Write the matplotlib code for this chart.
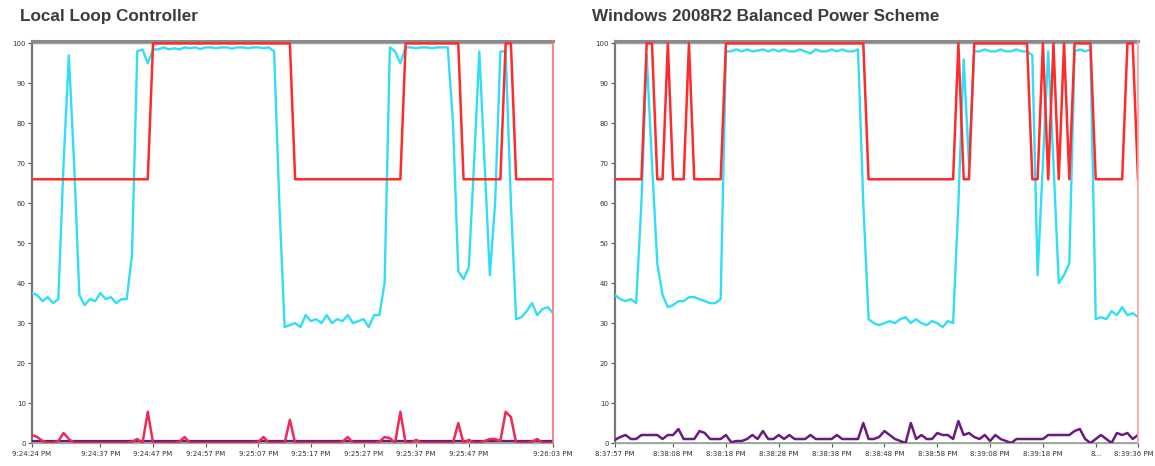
import matplotlib
matplotlib.use("Agg")
import matplotlib.pyplot as plt
import matplotlib.transforms as mtransforms
import numpy as np

# ---------------- data ----------------
titles = ["Local Loop Controller", "Windows 2008R2 Balanced Power Scheme"]
y_ticks = [0, 10, 20, 30, 40, 50, 60, 70, 80, 90, 100]

left_tick_pos = [0, 13, 23, 33, 43, 53, 63, 73, 83, 99]
left_tick_labels = ["9:24:24 PM", "9:24:37 PM", "9:24:47 PM", "9:24:57 PM", "9:25:07 PM",
                    "9:25:17 PM", "9:25:27 PM", "9:25:37 PM", "9:25:47 PM", "9:26:03 PM"]
right_tick_pos = [0, 11, 21, 31, 41, 51, 61, 71, 81, 91, 99]
right_tick_labels = ["8:37:57 PM", "8:38:08 PM", "8:38:18 PM", "8:38:28 PM", "8:38:38 PM",
                     "8:38:48 PM", "8:38:58 PM", "8:39:08 PM", "8:39:18 PM", "8...", "8:39:36 PM"]

# Local Loop Controller: processor time (cyan), frequency (red), low counters
left_cpu = [37.5, 37, 35.5, 36.5, 35, 36, 70, 97, 70, 37,
            34.5, 36, 35.5, 37.5, 36, 36.5, 35, 36, 36, 47,
            98, 98.5, 95, 98.5, 98.5, 99, 98.5, 98.8, 98.5, 99,
            98.8, 99, 98.6, 99, 99, 98.8, 99, 99, 98.7, 99,
            99, 98.8, 99, 99, 98.8, 99, 98, 60, 29, 29.5,
            30, 29, 32, 30.5, 31, 30, 32, 30, 31, 30.5,
            32, 30, 30.5, 31, 29, 32, 32, 40, 99, 98,
            95, 99, 99, 98.8, 99, 99, 98.8, 99, 99, 99,
            80, 43, 41, 44, 70, 98, 70, 42, 60, 98,
            98, 60, 31, 31.5, 33, 35, 32, 33.5, 34, 32.5]
left_freq = [66, 66, 66, 66, 66, 66, 66, 66, 66, 66,
             66, 66, 66, 66, 66, 66, 66, 66, 66, 66,
             66, 66, 66, 100, 100, 100, 100, 100, 100, 100,
             100, 100, 100, 100, 100, 100, 100, 100, 100, 100,
             100, 100, 100, 100, 100, 100, 100, 100, 100, 100,
             66, 66, 66, 66, 66, 66, 66, 66, 66, 66,
             66, 66, 66, 66, 66, 66, 66, 66, 66, 66,
             66, 100, 100, 100, 100, 100, 100, 100, 100, 100,
             100, 100, 66, 66, 66, 66, 66, 66, 66, 66,
             100, 100, 66, 66, 66, 66, 66, 66, 66, 66]
left_low_red = [2.0, 1.5, 0.5, 0, 0, 0.5, 2.5, 1.0, 0, 0,
                0, 0, 0, 0, 0, 0, 0, 0, 0, 0.3,
                1.0, 0, 7.8, 0, 0, 0, 0, 0, 0.3, 1.5,
                0, 0, 0, 0, 0, 0, 0, 0, 0, 0,
                0, 0, 0, 0.3, 1.5, 0, 0, 0, 0, 5.8,
                0, 0, 0, 0, 0, 0, 0, 0, 0, 0.3,
                1.5, 0, 0, 0, 0, 0, 0.3, 1.5, 1.2, 0,
                7.8, 0, 0, 0.8, 0, 0, 0, 0, 0, 0,
                0, 5.0, 0, 0.8, 0, 0, 0.5, 1.0, 1.0, 0.5,
                7.8, 6.5, 0, 0, 0, 0.3, 1.0, 0, 0, 0]
left_low_purple = [0.4, 0.4, 0.4, 0.4, 0.4, 0.4, 0.4, 0.4, 0.4, 0.4,
                   0.4, 0.4, 0.4, 0.4, 0.4, 0.4, 0.4, 0.4, 0.4, 0.4,
                   0.4, 0.4, 0.4, 0.4, 0.4, 0.4, 0.4, 0.4, 0.4, 0.4,
                   0.4, 0.4, 0.4, 0.4, 0.4, 0.4, 0.4, 0.4, 0.4, 0.4,
                   0.4, 0.4, 0.4, 0.4, 0.4, 0.4, 0.4, 0.4, 0.4, 0.4,
                   0.4, 0.4, 0.4, 0.4, 0.4, 0.4, 0.4, 0.4, 0.4, 0.4,
                   0.4, 0.4, 0.4, 0.4, 0.4, 0.4, 0.4, 0.4, 0.4, 0.4,
                   0.4, 0.4, 0.4, 0.4, 0.4, 0.4, 0.4, 0.4, 0.4, 0.4,
                   0.4, 0.4, 0.4, 0.4, 0.4, 0.4, 0.4, 0.4, 0.4, 0.4,
                   0.4, 0.4, 0.4, 0.4, 0.4, 0.4, 0.4, 0.4, 0.4, 0.4]

# Windows 2008R2 Balanced Power Scheme
right_cpu = [37, 36, 35.5, 36, 35, 60, 97, 70, 45, 37,
             34, 34.5, 35.5, 35.5, 36.5, 36.5, 36, 35.5, 35, 35,
             36, 98, 98, 98.5, 98, 98.5, 98, 98.2, 98.5, 98,
             98.5, 98, 98.5, 98, 98, 98.5, 98, 97.5, 98.5, 98,
             98, 98.5, 98, 98.5, 98, 98, 98.5, 60, 31, 30,
             29.5, 30, 30.5, 30, 31, 31.5, 30, 31, 30, 29.5,
             30.5, 30, 29, 30.5, 30, 60, 96, 70, 98, 98,
             98.5, 98, 98, 98.5, 98, 98, 98.5, 98, 98, 97,
             42, 70, 98, 70, 40, 42, 45, 98, 98.5, 98,
             98.5, 31, 31.5, 31, 33, 32, 34, 32, 32.5, 31.5]
right_freq = [66, 66, 66, 66, 66, 66, 100, 100, 66, 66,
              100, 66, 66, 66, 100, 66, 66, 66, 66, 66,
              66, 100, 100, 100, 100, 100, 100, 100, 100, 100,
              100, 100, 100, 100, 100, 100, 100, 100, 100, 100,
              100, 100, 100, 100, 100, 100, 100, 100, 66, 66,
              66, 66, 66, 66, 66, 66, 66, 66, 66, 66,
              66, 66, 66, 66, 66, 100, 66, 66, 100, 100,
              100, 100, 100, 100, 100, 100, 100, 100, 100, 66,
              66, 100, 66, 100, 66, 100, 66, 100, 100, 100,
              100, 66, 66, 66, 66, 66, 66, 100, 100, 66]
right_low_purple = [0.8, 1.5, 2.0, 1.0, 1.0, 2.0, 2.0, 2.0, 2.0, 1.0,
                    2.0, 2.0, 3.5, 1.0, 1.0, 1.0, 3.0, 2.5, 1.0, 1.0,
                    1.0, 2.0, 0.2, 0.5, 0.5, 1.0, 2.0, 1.0, 3.0, 1.0,
                    1.0, 2.0, 1.0, 2.0, 1.0, 1.0, 1.0, 2.0, 1.0, 1.0,
                    1.0, 1.0, 2.0, 1.0, 1.0, 1.0, 1.0, 5.0, 1.0, 1.0,
                    1.5, 3.0, 2.0, 1.0, 0.5, 0.0, 5.0, 1.0, 2.0, 1.0,
                    1.0, 2.5, 2.0, 2.0, 1.0, 5.5, 2.0, 2.5, 1.5, 1.0,
                    2.0, 0.5, 2.0, 1.0, 0.5, 0.0, 1.0, 1.0, 1.0, 1.0,
                    1.0, 1.0, 2.0, 2.0, 2.0, 2.0, 2.0, 3.0, 3.5, 1.0,
                    0.0, 1.0, 2.0, 1.0, 0.0, 2.5, 2.0, 2.5, 1.0, 2.0]
zero_line = [0, 0, 0, 0, 0, 0, 0, 0, 0, 0, 0, 0, 0, 0, 0, 0, 0, 0, 0, 0,
             0, 0, 0, 0, 0, 0, 0, 0, 0, 0, 0, 0, 0, 0, 0, 0, 0, 0, 0, 0,
             0, 0, 0, 0, 0, 0, 0, 0, 0, 0, 0, 0, 0, 0, 0, 0, 0, 0, 0, 0,
             0, 0, 0, 0, 0, 0, 0, 0, 0, 0, 0, 0, 0, 0, 0, 0, 0, 0, 0, 0,
             0, 0, 0, 0, 0, 0, 0, 0, 0, 0, 0, 0, 0, 0, 0, 0, 0, 0, 0, 0]

# ---------------- drawing ----------------
W, H = 1155, 466
fig = plt.figure(figsize=(W / 100, H / 100), dpi=100)
fig.patch.set_facecolor("white")

CYAN = "#30def9"
RED = "#ff2a2a"
PINK = "#ee2a55"
PURPLE = "#6a1a80"
GREEN = "#9be89b"

TITLE_FONT = ["Liberation Sans Narrow", "Liberation Sans", "DejaVu Sans"]


def make_axes(x0, x1, y_top, y_bot):
    return fig.add_axes([x0 / W, 1 - y_bot / H, (x1 - x0) / W, (y_bot - y_top) / H])


def style(ax, tick_pos, tick_labels, cursor_color):
    ax.set_xlim(0, 99)
    ax.set_ylim(0, 100.6)
    ax.set_yticks(y_ticks)
    ax.set_yticklabels([str(v) for v in y_ticks])
    ax.set_xticks(tick_pos)
    ax.set_xticklabels(tick_labels)
    ax.tick_params(axis="both", labelsize=5, colors="#555555", length=3, width=0.8, pad=1.5)
    ax.tick_params(axis="x", pad=3)
    for lab in ax.get_xticklabels() + ax.get_yticklabels():
        lab.set_color("#333333")
    ax.spines["left"].set_color("#777777")
    ax.spines["left"].set_linewidth(1.6)
    ax.spines["bottom"].set_color("#999999")
    ax.spines["bottom"].set_linewidth(1.2)
    ax.spines["top"].set_color("#8a8a8a")
    ax.spines["top"].set_linewidth(2.2)
    ax.spines["right"].set_visible(False)
    ax.axhline(100, color="#a0a0a0", lw=1.0, zorder=1)
    ax.axvline(99, color=cursor_color, lw=1.2, zorder=6, clip_on=False)


x = np.arange(100)

# left panel
ax1 = make_axes(32, 553, 41, 443)
ax1.plot(x, zero_line, color=GREEN, lw=1.0, zorder=2, clip_on=False)
ax1.plot(x, left_low_purple, color=PURPLE, lw=1.6, zorder=3)
ax1.plot(x, left_low_red, color=PINK, lw=1.8, zorder=4)
ax1.plot(x, left_cpu, color=CYAN, lw=1.7, zorder=4)
ax1.plot(x, left_freq, color=RED, lw=1.8, zorder=5)
style(ax1, left_tick_pos, left_tick_labels, "#ff7070")

# right panel
ax2 = make_axes(615, 1138, 41, 443)
ax2.plot(x, zero_line, color=GREEN, lw=1.0, zorder=2, clip_on=False)
ax2.plot(x, right_low_purple, color=PURPLE, lw=1.8, zorder=3)
ax2.plot(x, right_cpu, color=CYAN, lw=1.7, zorder=4)
ax2.plot(x, right_freq, color=RED, lw=1.8, zorder=5)
style(ax2, right_tick_pos, right_tick_labels, "#ffa0a0")

# keep the last right-hand time label inside the picture
last = ax2.get_xticklabels()[-1]
last.set_transform(last.get_transform() + mtransforms.ScaledTranslation(-4 / 100, 0, fig.dpi_scale_trans))

fig.text(20 / W, 1 - 9 / H, titles[0], fontsize=12.3, fontweight="bold", color="#3c3c3c",
         family=TITLE_FONT, ha="left", va="top")
fig.text(592 / W, 1 - 9 / H, titles[1], fontsize=12.3, fontweight="bold", color="#3c3c3c",
         family=TITLE_FONT, ha="left", va="top")

fig.savefig("out.png", dpi=100, facecolor="white")
